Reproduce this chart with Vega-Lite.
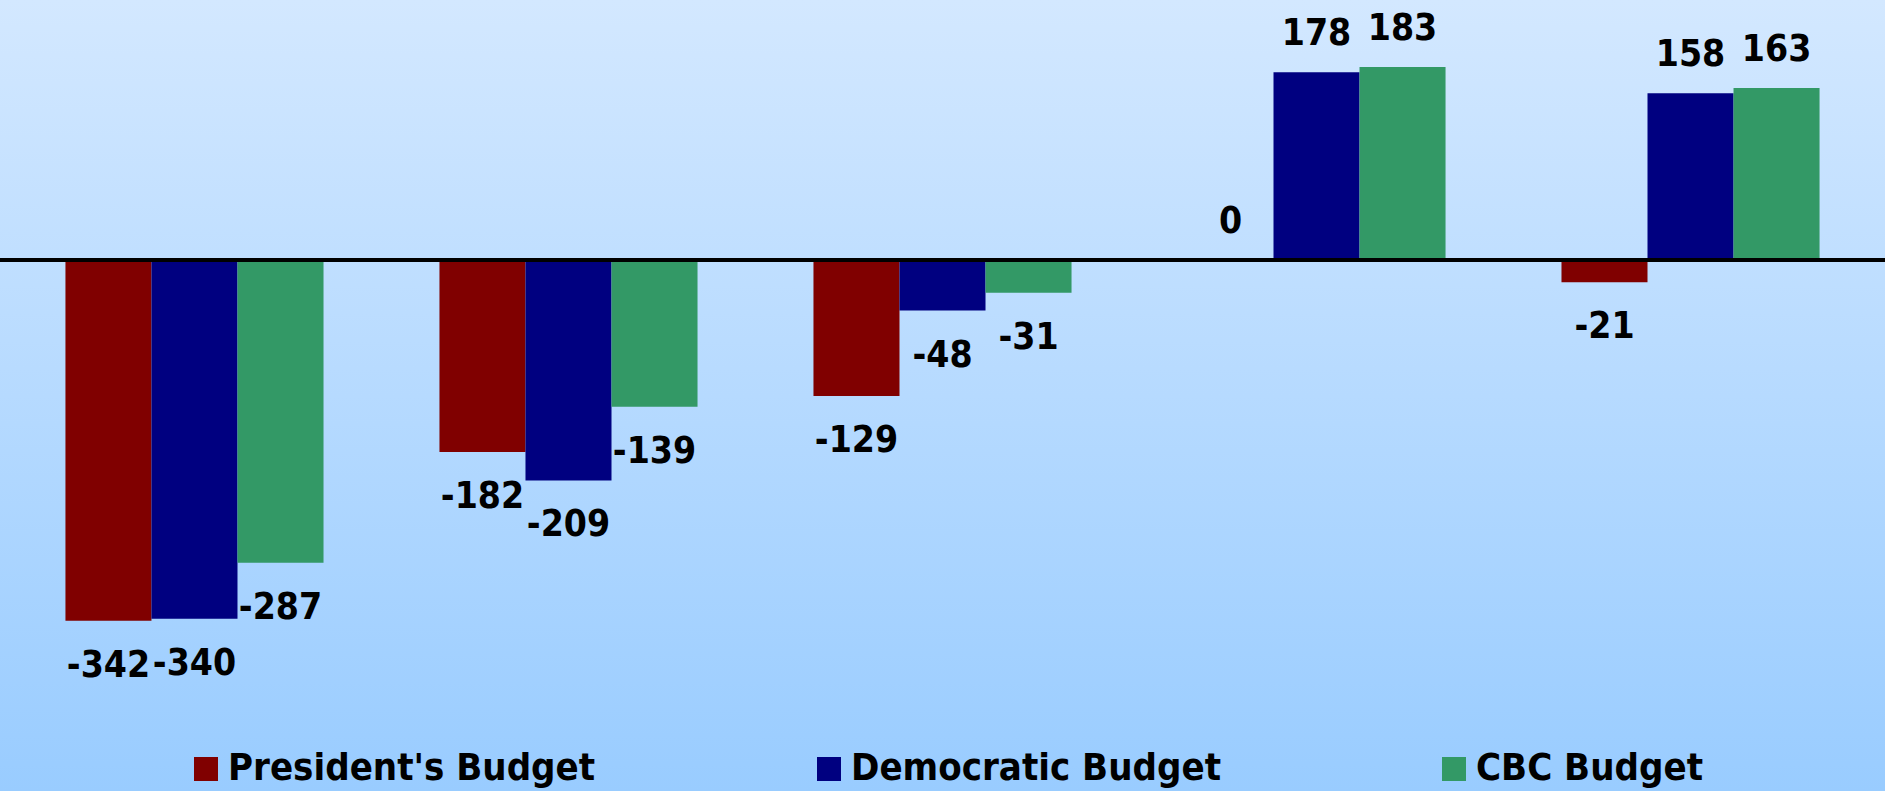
{
  "$schema": "https://vega.github.io/schema/vega-lite/v6.json",
  "width": 1885,
  "height": 791,
  "autosize": "none",
  "padding": 0,
  "config": {
    "view": {
      "stroke": null,
      "fill": {"gradient": "linear", "x1": 0, "y1": 0, "x2": 0, "y2": 1,
        "stops": [{"offset": 0, "color": "#d3e8ff"}, {"offset": 1, "color": "#99ccff"}]}
    },
    "font": "DejaVu Sans Condensed"
  },
  "data": {
    "values": [
      {"period": "Year 1", "budget": "President's Budget", "value": -342},
      {"period": "Year 1", "budget": "Democratic Budget", "value": -340},
      {"period": "Year 1", "budget": "CBC Budget", "value": -287},
      {"period": "Year 2", "budget": "President's Budget", "value": -182},
      {"period": "Year 2", "budget": "Democratic Budget", "value": -209},
      {"period": "Year 2", "budget": "CBC Budget", "value": -139},
      {"period": "Year 3", "budget": "President's Budget", "value": -129},
      {"period": "Year 3", "budget": "Democratic Budget", "value": -48},
      {"period": "Year 3", "budget": "CBC Budget", "value": -31},
      {"period": "Year 4", "budget": "President's Budget", "value": 0},
      {"period": "Year 4", "budget": "Democratic Budget", "value": 178},
      {"period": "Year 4", "budget": "CBC Budget", "value": 183},
      {"period": "Year 5", "budget": "President's Budget", "value": -21},
      {"period": "Year 5", "budget": "Democratic Budget", "value": 158},
      {"period": "Year 5", "budget": "CBC Budget", "value": 163}
    ]
  },
  "encoding": {
    "x": {"field": "period", "type": "nominal", "sort": null, "axis": null,
      "scale": {"paddingInner": 0.31, "paddingOuter": 0.175}},
    "xOffset": {"field": "budget", "type": "nominal",
      "sort": ["President's Budget", "Democratic Budget", "CBC Budget"]},
    "y": {"field": "value", "type": "quantitative", "axis": null,
      "scale": {"domain": [-503.3, 246.4], "nice": false}}
  },
  "layer": [
    {
      "mark": {"type": "bar"},
      "encoding": {
        "color": {"field": "budget", "type": "nominal",
          "scale": {"domain": ["President's Budget", "Democratic Budget", "CBC Budget"],
            "range": ["#800000", "#000080", "#339966"]},
          "legend": {"orient": "none", "legendX": 187, "legendY": 750, "direction": "horizontal",
            "title": null, "symbolType": "square", "symbolSize": 576, "symbolStrokeWidth": 0,
            "symbolOpacity": 1, "labelFontSize": 38, "labelFont": "DejaVu Sans Condensed",
            "labelFontWeight": "bold", "labelColor": "black", "columnPadding": 214,
            "labelOffset": 3, "padding": 0, "labelLimit": 0}}
      }
    },
    {
      "transform": [{"filter": "datum.value < 0"}],
      "mark": {"type": "text", "baseline": "alphabetic", "align": "center", "dy": 56,
        "fontSize": 37, "fontWeight": "bold", "color": "black", "font": "DejaVu Sans Condensed"},
      "encoding": {"text": {"field": "value", "type": "nominal"}}
    },
    {
      "transform": [{"filter": "datum.value >= 0"}],
      "mark": {"type": "text", "baseline": "alphabetic", "align": "center", "dy": -27,
        "fontSize": 37, "fontWeight": "bold", "color": "black", "font": "DejaVu Sans Condensed"},
      "encoding": {"text": {"field": "value", "type": "nominal"}}
    },
    {
      "mark": {"type": "rule", "color": "black", "strokeWidth": 3},
      "encoding": {"y": {"datum": 0}, "x": null, "xOffset": null}
    }
  ]
}
